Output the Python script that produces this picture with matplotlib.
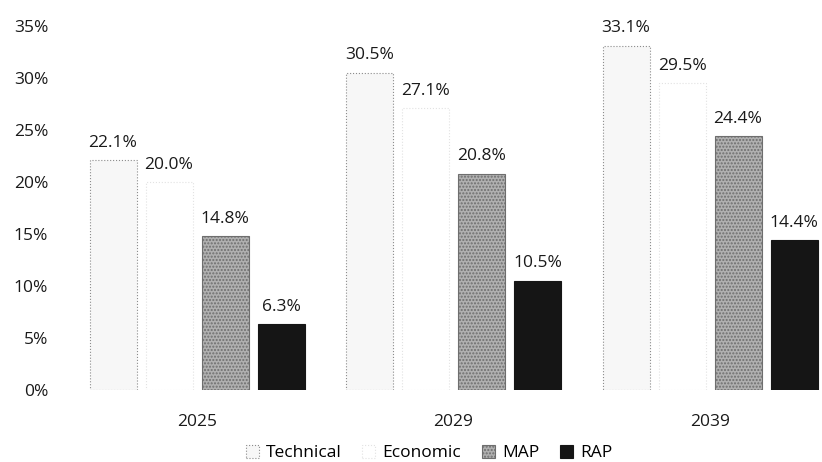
import numpy as np
import matplotlib
matplotlib.use("Agg")
import matplotlib.pyplot as plt

# Data

years = ["2025", "2029", "2039"]
series = ["Technical", "Economic", "MAP", "RAP"]

technical = [22.1, 30.5, 33.1]
economic = [20.0, 27.1, 29.5]
map_vals = [14.8, 20.8, 24.4]
rap = [6.3, 10.5, 14.4]

yticks = [0, 5, 10, 15, 20, 25, 30, 35]

plt.rcParams["font.family"] = ["Open Sans", "DejaVu Sans"]

fig = plt.figure(figsize=(8.22, 4.62), dpi=100)
ax = fig.add_axes([62 / 822, 72 / 462, 760 / 822, 364 / 462])

# group spacing is about 256 px in the reference

group_px = 256.5
x = np.arange(len(years))
stride = 56 / group_px
width = 47 / group_px

styles = [
    dict(facecolor="#f7f7f7", edgecolor="#8c8c8c", linestyle=":", hatch=None),
    dict(facecolor="#ffffff", edgecolor="#e2e2e2", linestyle=":", hatch=None),
    dict(facecolor="#b0b0b0", edgecolor="#6e6e6e", linestyle="-", hatch="....."),
    dict(facecolor="#151515", edgecolor="#151515", linestyle="-", hatch=None),
]

all_vals = [technical, economic, map_vals, rap]

for i, (name, vals, st) in enumerate(zip(series, all_vals, styles)):
    pos = x + (i - 1.5) * stride
    ax.bar(
        pos,
        vals,
        width,
        label=name,
        facecolor=st["facecolor"],
        edgecolor=st["edgecolor"],
        linestyle=st["linestyle"],
        linewidth=0.8,
        hatch=st["hatch"],
    )
    for p, v in zip(pos, vals):
        ax.text(
            p, v + 0.9, f"{v:.1f}%",
            ha="center", va="bottom",
            fontsize=12.5, color="#1a1a1a",
        )

left = -135 / group_px
ax.set_xlim(left, left + 760 / group_px)
ax.set_ylim(0, 35)
ax.set_xticks(x)
ax.set_xticklabels(years, fontsize=12.5, color="#1a1a1a")
ax.set_yticks(yticks)
ax.set_yticklabels([f"{t}%" for t in yticks], fontsize=12.5, color="#1a1a1a")
ax.tick_params(axis="both", length=0)
ax.tick_params(axis="x", pad=17)
ax.tick_params(axis="y", pad=10)

for s in ax.spines.values():
    s.set_visible(False)

ax.legend(
    loc="center",
    bbox_to_anchor=(429 / 822, 9 / 462),
    bbox_transform=fig.transFigure,
    ncol=4,
    frameon=False,
    fontsize=12.5,
    handlelength=0.75,
    handleheight=0.75,
    handletextpad=0.4,
    columnspacing=1.2,
    borderpad=0,
)

fig.savefig("out.png", dpi=100)
